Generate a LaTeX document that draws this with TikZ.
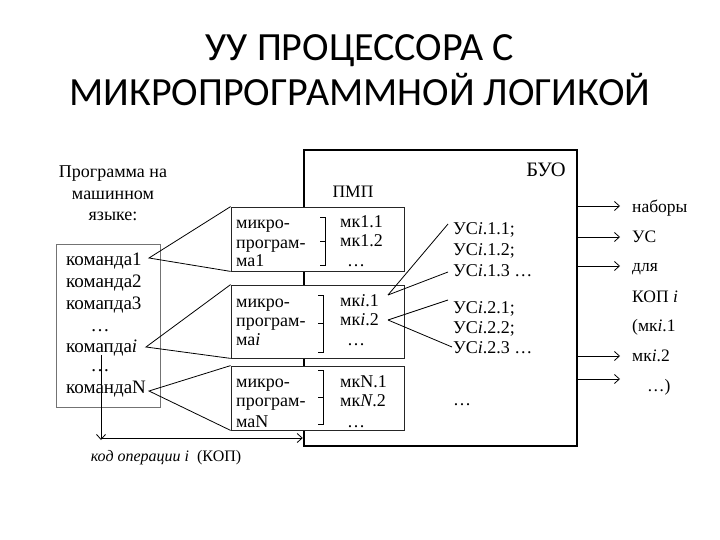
\documentclass[tikz,border=0pt]{standalone}
\usepackage{fontspec}
\setmainfont{Liberation Serif}
\newfontfamily\titlefont{Carlito}
\usetikzlibrary{arrows.meta}
\tikzset{
  txt/.style={inner sep=0pt, anchor=base west, font=\fontsize{18}{21}\selectfont},
  ptxt/.style={inner sep=0pt, anchor=base west, font=\fontsize{19}{22}\selectfont},
  rtxt/.style={inner sep=0pt, anchor=base west, font=\fontsize{17.5}{21}\selectfont},
  ttl/.style={inner sep=0pt, anchor=base, font=\titlefont\fontsize{40}{48}\selectfont},
  mbox/.style={draw=black!85, line width=0.8pt, fill=white, minimum width=173pt, minimum height=64pt, inner sep=0pt},
  arr/.style={line width=0.8pt, -{Straight Barb[length=5pt,width=9pt]}},
  ln/.style={line width=0.8pt},
}
\begin{document}
\begin{tikzpicture}[x=1pt,y=-1pt]
\useasboundingbox (0,0) rectangle (720,540);
% title
\node[ttl] (t1) at (360,61) {УУ ПРОЦЕССОРА С};
\node[ttl] (t2) at (360,106) {МИКРОПРОГРАММНОЙ ЛОГИКОЙ};
% BUO box
\node[draw, line width=2.5pt, minimum width=273pt, minimum height=296pt, inner sep=0pt] (buo) at (440.5,298) {};
\node[inner sep=0pt, anchor=base, font=\fontsize{20.5}{24}\selectfont] (buol) at (546,177) {БУО};
\node[inner sep=0pt, anchor=base, font=\fontsize{17.5}{21}\selectfont] (pmp) at (353,197) {ПМП};
% program box
\node[draw=black!55, line width=0.8pt, minimum width=104pt, minimum height=163pt, inner sep=0pt] (prog) at (108,325.5) {};
\node[inner sep=0pt, anchor=base, font=\fontsize{18}{21}\selectfont] (pt1) at (113,178) {Программа на};
\node[inner sep=0pt, anchor=base, font=\fontsize{18}{21}\selectfont] (pt2) at (113,200) {машинном};
\node[inner sep=0pt, anchor=base, font=\fontsize{18}{21}\selectfont] (pt3) at (113,221) {языке:};
\node[ptxt] (c1) at (66,265) {команда1};
\node[ptxt] (c2) at (66,287) {команда2};
\node[ptxt] (c3) at (66,309) {комапда3};
\node[ptxt, anchor=base] (cd1) at (100,331) {\dots};
\node[ptxt] (ci) at (66,352) {комапда\textit{i}};
\node[ptxt, anchor=base] (cd2) at (100,371) {\dots};
\node[ptxt] (cn) at (66,393) {командаN};
% micro boxes
\node[mbox] (m1) at (317.5,239) {};
\node[mbox, minimum height=73pt] (m2) at (317.5,321.5) {};
\node[mbox] (m3) at (317.5,398) {};
% box 1 text
\node[txt] (m1a) at (236,229) {микро-};
\node[txt] (m1b) at (236,248) {програм-};
\node[txt] (m1c) at (236,266) {ма1};
\node[txt] (k11) at (340,228) {мк1.1};
\node[txt] (k12) at (340,247) {мк1.2};
\node[txt, anchor=base] (k13) at (356,266) {\dots};
% box 2 text
\node[txt] (m2a) at (236,307) {микро-};
\node[txt] (m2b) at (236,326) {програм-};
\node[txt] (m2c) at (236,345) {ма\textit{i}};
\node[txt] (k21) at (340,306) {мк\textit{i}.1};
\node[txt] (k22) at (340,325) {мк\textit{i}.2};
\node[txt, anchor=base] (k23) at (356,345) {\dots};
% box 3 text
\node[txt] (m3a) at (236,387) {микро-};
\node[txt] (m3b) at (236,406) {програм-};
\node[txt] (m3c) at (236,427) {маN};
\node[txt] (k31) at (340,387) {мкN.1};
\node[txt] (k32) at (340,406) {мк\textit{N}.2};
\node[txt, anchor=base] (k33) at (356,427) {\dots};
% brackets
\draw[ln] (320,217) -- (325,217) -- (325,265) -- (320,265) (325,241) -- (320,241);
\draw[ln] (318,295) -- (323,295) -- (323,352) -- (318,352) (323,323) -- (318,323);
\draw[ln] (318,370) -- (323,370) -- (323,424) -- (318,424) (323,397) -- (318,397);
% triangles from commands to micro boxes
\coordinate (p1) at (149,258);
\coordinate (pi) at (146,347);
\coordinate (pn) at (149,391);
\draw[ln] (m1.north west) -- (p1) -- (m1.south west);
\draw[ln] (m2.north west) -- (pi) -- (m2.south west);
\draw[ln] (m3.north west) -- (pn) -- (m3.south west);
% US texts
\node[txt] (u11) at (453,235) {УС\textit{i}.1.1;};
\node[txt] (u12) at (453,255) {УС\textit{i}.1.2;};
\node[txt] (u13) at (453,276) {УС\textit{i}.1.3 \dots};
\node[txt] (u21) at (453,313) {УС\textit{i}.2.1;};
\node[txt] (u22) at (453,333) {УС\textit{i}.2.2;};
\node[txt] (u23) at (453,353) {УС\textit{i}.2.3 \dots};
\node[txt] (ud) at (453,405) {\dots};
\coordinate (q1) at (388,295);
\coordinate (q2) at (388,320);
\coordinate (e11) at (448,224);
\coordinate (e13) at (448,272);
\coordinate (e21) at (448,300);
\coordinate (e23) at (452,347);
\draw[ln] (q1) -- (e11);
\draw[ln] (q1) -- (e13);
\draw[ln] (q2) -- (e21);
\draw[ln] (q2) -- (e23);
% KOP arrow
\coordinate (d0) at (101,355);
\coordinate (d1) at (101,440);
\draw[arr] (d0) -- (d1);
\coordinate (h0) at (101,438);
\draw[arr] (h0) -- (buo.west |- h0);
\node[inner sep=0pt, anchor=base, font=\fontsize{16}{19}\selectfont] (kop) at (166,461) {\textit{код операции i}\ \ (КОП)};
% outputs
\foreach \yy/\nm in {206/o1,237/o2,266/o3,356/o4,379/o5}{
  \coordinate (\nm) at (620,\yy);
  \draw[arr] (buo.east |- \nm) -- (\nm);
}
\node[rtxt] (r1) at (632,212) {наборы};
\node[rtxt] (r2) at (632,243) {УС};
\node[rtxt] (r3) at (632,271) {для};
\node[rtxt] (r4) at (632,302) {КОП \textit{i}};
\node[rtxt] (r5) at (632,331) {(мк\textit{i}.1};
\node[rtxt] (r6) at (632,361) {мк\textit{i}.2};
\node[rtxt] (r7) at (647,391) {\dots)};
\end{tikzpicture}
\end{document}
